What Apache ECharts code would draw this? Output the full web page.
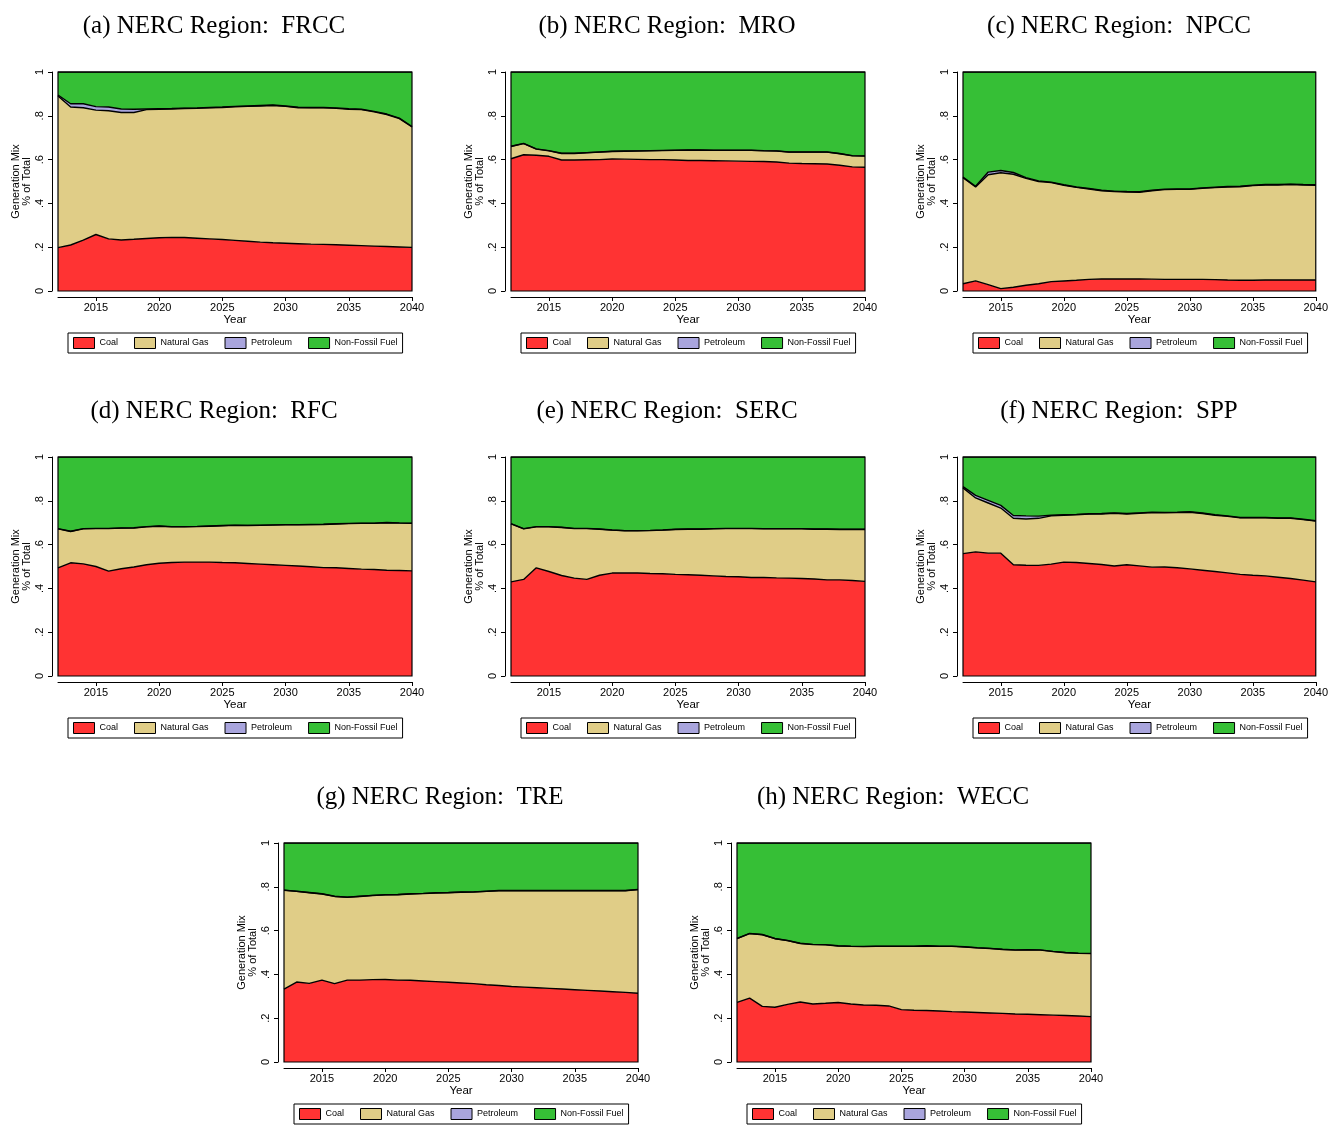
<!DOCTYPE html>
<html>
<head>
<meta charset="utf-8">
<script src="https://cdn.jsdelivr.net/npm/echarts@6/dist/echarts.min.js"></script>
<style>
  html, body { margin: 0; background: #fff; }
  #main { width: 1331px; height: 1125px; }
</style>
</head>
<body>
<div id="main"></div>
<script>
// years on the x axis
const years = [2012, 2013, 2014, 2015, 2016, 2017, 2018, 2019, 2020, 2021, 2022, 2023, 2024, 2025,
  2026, 2027, 2028, 2029, 2030, 2031, 2032, 2033, 2034, 2035, 2036, 2037, 2038, 2039, 2040];
const xTicks = [2015, 2020, 2025, 2030, 2035, 2040];
const yTickLabels = ['0', '.2', '.4', '.6', '.8', '1'];
const fuels = ['Coal', 'Natural Gas', 'Petroleum', 'Non-Fossil Fuel'];

// shares of total generation
const frccCoal = [.198, .21, .232, .258, .238, .233, .236, .24, .243, .245, .244, .241, .238, .235, .231, .227, .223, .22, .218, .216, .214, .213, .211, .209, .207, .205, .203, .201, .199];
const frccGas = [.692, .63, .605, .568, .585, .582, .579, .588, .587, .586, .589, .593, .598, .603, .61, .616, .622, .627, .625, .621, .622, .623, .623, .621, .621, .613, .603, .586, .55];
const frccPet = [.005, .015, .018, .016, .017, .016, .015, .003, .002, .002, .002, .002, .002, .002, .002, .002, .002, .002, .002, .002, .002, .002, .002, .002, .002, .002, .002, .002, .002];
const frccNonFossil = [.105, .145, .145, .158, .16, .169, .17, .169, .168, .167, .165, .164, .162, .16, .157, .155, .153, .151, .155, .161, .162, .162, .164, .168, .17, .18, .192, .211, .249];

const mroCoal = [.604, .622, .62, .615, .598, .598, .599, .6, .603, .602, .601, .6, .6, .598, .596, .596, .595, .594, .593, .592, .591, .589, .584, .582, .581, .58, .574, .567, .565];
const mroGas = [.056, .051, .028, .025, .03, .03, .032, .034, .034, .036, .038, .04, .041, .044, .047, .047, .047, .048, .049, .05, .049, .05, .05, .052, .053, .054, .053, .05, .051];
const mroPet = [.001, .001, .001, .001, .001, .001, .001, .001, .001, .001, .001, .001, .001, .001, .001, .001, .001, .001, .001, .001, .001, .001, .001, .001, .001, .001, .001, .001, .001];
const mroNonFossil = [.339, .326, .351, .359, .371, .371, .368, .365, .362, .361, .36, .359, .358, .357, .356, .356, .357, .357, .357, .357, .359, .36, .365, .365, .365, .365, .372, .382, .383];

const npccCoal = [.033, .046, .029, .011, .017, .026, .033, .043, .046, .049, .053, .055, .055, .055, .055, .054, .053, .053, .053, .053, .052, .05, .049, .049, .05, .05, .05, .05, .05];
const npccGas = [.484, .429, .502, .529, .516, .488, .467, .452, .437, .424, .413, .403, .399, .397, .396, .404, .41, .411, .411, .416, .42, .425, .427, .432, .434, .434, .436, .434, .433];
const npccPet = [.003, .003, .012, .01, .008, .004, .003, .002, .002, .002, .002, .002, .002, .002, .002, .002, .002, .002, .002, .002, .002, .002, .002, .002, .002, .002, .002, .002, .002];
const npccNonFossil = [.48, .522, .457, .45, .459, .482, .497, .503, .515, .525, .532, .54, .544, .546, .547, .54, .535, .534, .534, .529, .526, .523, .522, .517, .514, .514, .512, .514, .515];

const rfcCoal = [.494, .517, .512, .5, .479, .49, .498, .508, .515, .518, .52, .52, .52, .518, .517, .514, .511, .508, .505, .502, .499, .495, .494, .491, .488, .486, .483, .482, .48];
const rfcGas = [.178, .143, .16, .173, .194, .185, .178, .173, .169, .163, .161, .162, .164, .168, .171, .173, .177, .181, .185, .188, .192, .197, .2, .205, .209, .211, .217, .216, .217];
const rfcPet = [.001, .001, .001, .001, .001, .001, .001, .001, .001, .001, .001, .001, .001, .001, .001, .001, .001, .001, .001, .001, .001, .001, .001, .001, .001, .001, .001, .001, .001];
const rfcNonFossil = [.327, .339, .327, .326, .326, .324, .323, .318, .315, .318, .318, .317, .315, .313, .311, .312, .311, .31, .309, .309, .308, .307, .305, .303, .302, .302, .299, .301, .302];

const sercCoal = [.43, .441, .494, .477, .459, .447, .441, .46, .47, .471, .47, .468, .467, .464, .462, .46, .457, .454, .453, .45, .45, .448, .447, .445, .443, .439, .439, .436, .432];
const sercGas = [.265, .231, .187, .204, .219, .226, .232, .21, .196, .192, .193, .196, .199, .205, .208, .21, .215, .219, .22, .223, .222, .224, .225, .227, .227, .231, .23, .233, .237];
const sercPet = [.001, .001, .001, .001, .001, .001, .001, .001, .001, .001, .001, .001, .001, .001, .001, .001, .001, .001, .001, .001, .001, .001, .001, .001, .001, .001, .001, .001, .001];
const sercNonFossil = [.304, .327, .318, .318, .321, .326, .326, .329, .333, .336, .336, .335, .333, .33, .329, .329, .327, .326, .326, .326, .327, .327, .327, .327, .329, .329, .33, .33, .33];

const sppCoal = [.559, .567, .561, .561, .508, .506, .505, .511, .52, .518, .514, .509, .502, .508, .503, .497, .498, .494, .489, .483, .477, .471, .464, .46, .457, .451, .445, .438, .43];
const sppGas = [.3, .246, .229, .206, .212, .211, .215, .22, .214, .218, .225, .231, .241, .232, .24, .249, .247, .252, .259, .259, .257, .258, .258, .262, .265, .269, .275, .276, .277];
const sppPet = [.006, .012, .012, .012, .013, .014, .01, .003, .002, .002, .002, .002, .002, .002, .002, .002, .002, .002, .002, .002, .002, .002, .002, .002, .002, .002, .002, .002, .002];
const sppNonFossil = [.135, .175, .198, .221, .267, .269, .27, .266, .264, .262, .259, .258, .255, .258, .255, .252, .253, .252, .25, .256, .264, .269, .276, .276, .276, .278, .278, .284, .291];

const treCoal = [.333, .365, .359, .374, .358, .374, .374, .376, .377, .374, .373, .37, .367, .364, .361, .358, .353, .349, .345, .342, .339, .336, .333, .33, .327, .324, .321, .318, .314];
const treGas = [.451, .414, .414, .393, .398, .378, .382, .384, .386, .39, .394, .399, .405, .409, .414, .418, .426, .433, .437, .44, .443, .446, .449, .452, .455, .458, .461, .464, .473];
const trePet = [.001, .001, .001, .001, .001, .001, .001, .001, .001, .001, .001, .001, .001, .001, .001, .001, .001, .001, .001, .001, .001, .001, .001, .001, .001, .001, .001, .001, .001];
const treNonFossil = [.215, .22, .226, .232, .243, .247, .243, .239, .236, .235, .232, .23, .227, .226, .224, .223, .22, .217, .217, .217, .217, .217, .217, .217, .217, .217, .217, .217, .212];

const weccCoal = [.272, .292, .254, .25, .263, .274, .265, .268, .272, .265, .26, .259, .256, .239, .236, .235, .233, .23, .228, .226, .224, .222, .219, .218, .216, .214, .212, .21, .207];
const weccGas = [.291, .294, .327, .313, .291, .267, .271, .267, .258, .263, .267, .269, .272, .289, .292, .295, .295, .298, .297, .295, .294, .292, .292, .294, .295, .29, .287, .286, .288];
const weccPet = [.001, .001, .001, .001, .001, .001, .001, .001, .001, .001, .001, .001, .001, .001, .001, .001, .001, .001, .001, .001, .001, .001, .001, .001, .001, .001, .001, .001, .001];
const weccNonFossil = [.436, .413, .418, .436, .445, .458, .463, .464, .469, .471, .472, .471, .471, .471, .471, .469, .471, .471, .474, .478, .481, .485, .488, .487, .488, .495, .5, .503, .504];

const panels = [
  { title: '(a) NERC Region:  FRCC', data: [frccCoal, frccGas, frccPet, frccNonFossil] },
  { title: '(b) NERC Region:  MRO', data: [mroCoal, mroGas, mroPet, mroNonFossil] },
  { title: '(c) NERC Region:  NPCC', data: [npccCoal, npccGas, npccPet, npccNonFossil] },
  { title: '(d) NERC Region:  RFC', data: [rfcCoal, rfcGas, rfcPet, rfcNonFossil] },
  { title: '(e) NERC Region:  SERC', data: [sercCoal, sercGas, sercPet, sercNonFossil] },
  { title: '(f) NERC Region:  SPP', data: [sppCoal, sppGas, sppPet, sppNonFossil] },
  { title: '(g) NERC Region:  TRE', data: [treCoal, treGas, trePet, treNonFossil] },
  { title: '(h) NERC Region:  WECC', data: [weccCoal, weccGas, weccPet, weccNonFossil] }
];

// plot regions (px)
const boxes = [
  [58, 72], [511, 72], [963, 72],
  [58, 457], [511, 457], [963, 457],
  [284, 843], [737, 843]
];
const plotW = 354, plotH = 219;
const colors = ['#ff3333', '#e0cd87', '#a9a5dd', '#36bf36'];
const sans = 'Liberation Sans, Arial, sans-serif';

// only every fifth year gets a tick and a label
function isTickYear(idx, val) {
  return xTicks.indexOf(Number(val)) >= 0;
}

const chart = echarts.init(document.getElementById('main'));

var grids = [], xAxes = [], yAxes = [], titles = [], legends = [], series = [];

panels.forEach(function (p, i) {
  var left = boxes[i][0], top = boxes[i][1];
  var cx = left + plotW / 2;

  grids.push({
    left: left, top: top, width: plotW, height: plotH,
    show: true, borderColor: '#000', borderWidth: 1.2,
    backgroundColor: 'transparent', z: 5
  });

  titles.push({
    text: p.title,
    left: cx - 21,
    top: top - 58,
    padding: 0,
    textAlign: 'center',
    textStyle: { fontFamily: 'Liberation Serif, Times New Roman, serif', fontSize: 25, fontWeight: 'normal', color: '#000' }
  });

  legends.push({
    data: fuels,
    left: cx - 167,
    top: top + 261,
    icon: 'rect',
    itemWidth: 21,
    itemHeight: 11,
    itemGap: 16,
    padding: [4, 5],
    borderColor: '#000',
    borderWidth: 1,
    itemStyle: { borderColor: '#000', borderWidth: 1 },
    textStyle: { fontFamily: sans, fontSize: 9, color: '#000' }
  });

  xAxes.push({
    gridIndex: i,
    type: 'category',
    data: years,
    boundaryGap: false,
    offset: 6,
    axisLine: { show: true, onZero: false, lineStyle: { color: '#000', width: 1 } },
    axisTick: { show: true, interval: isTickYear, length: 4, lineStyle: { color: '#000' } },
    axisLabel: { interval: isTickYear, fontFamily: sans, fontSize: 11, color: '#000', margin: 5 },
    splitLine: { show: false },
    name: 'Year',
    nameLocation: 'middle',
    nameGap: 17,
    nameTextStyle: { fontFamily: sans, fontSize: 11.5, color: '#000' }
  });

  yAxes.push({
    gridIndex: i,
    type: 'value',
    min: 0,
    max: 1,
    interval: 0.2,
    offset: 6,
    axisLine: { show: true, onZero: false, lineStyle: { color: '#000', width: 1 } },
    axisTick: { show: true, length: 4, lineStyle: { color: '#000' } },
    axisLabel: {
      rotate: 90, fontFamily: sans, fontSize: 11, color: '#000', margin: 7,
      formatter: function (v) { return yTickLabels[Math.round(v * 5)]; }
    },
    splitLine: { show: false },
    name: 'Generation Mix\n% of Total',
    nameLocation: 'middle',
    nameRotate: 90,
    nameGap: 20,
    nameTextStyle: { fontFamily: sans, fontSize: 11, lineHeight: 11, color: '#000' }
  });

  p.data.forEach(function (arr, k) {
    series.push({
      type: 'line',
      name: fuels[k],
      xAxisIndex: i,
      yAxisIndex: i,
      stack: 'mix' + i,
      symbol: 'none',
      silent: true,
      data: arr,
      lineStyle: { color: '#000', width: 1.4 },
      itemStyle: { color: colors[k] },
      areaStyle: { color: colors[k], opacity: 1 }
    });
  });
});

chart.setOption({
  animation: false,
  backgroundColor: '#fff',
  title: titles,
  legend: legends,
  grid: grids,
  xAxis: xAxes,
  yAxis: yAxes,
  series: series
});
</script>
</body>
</html>
